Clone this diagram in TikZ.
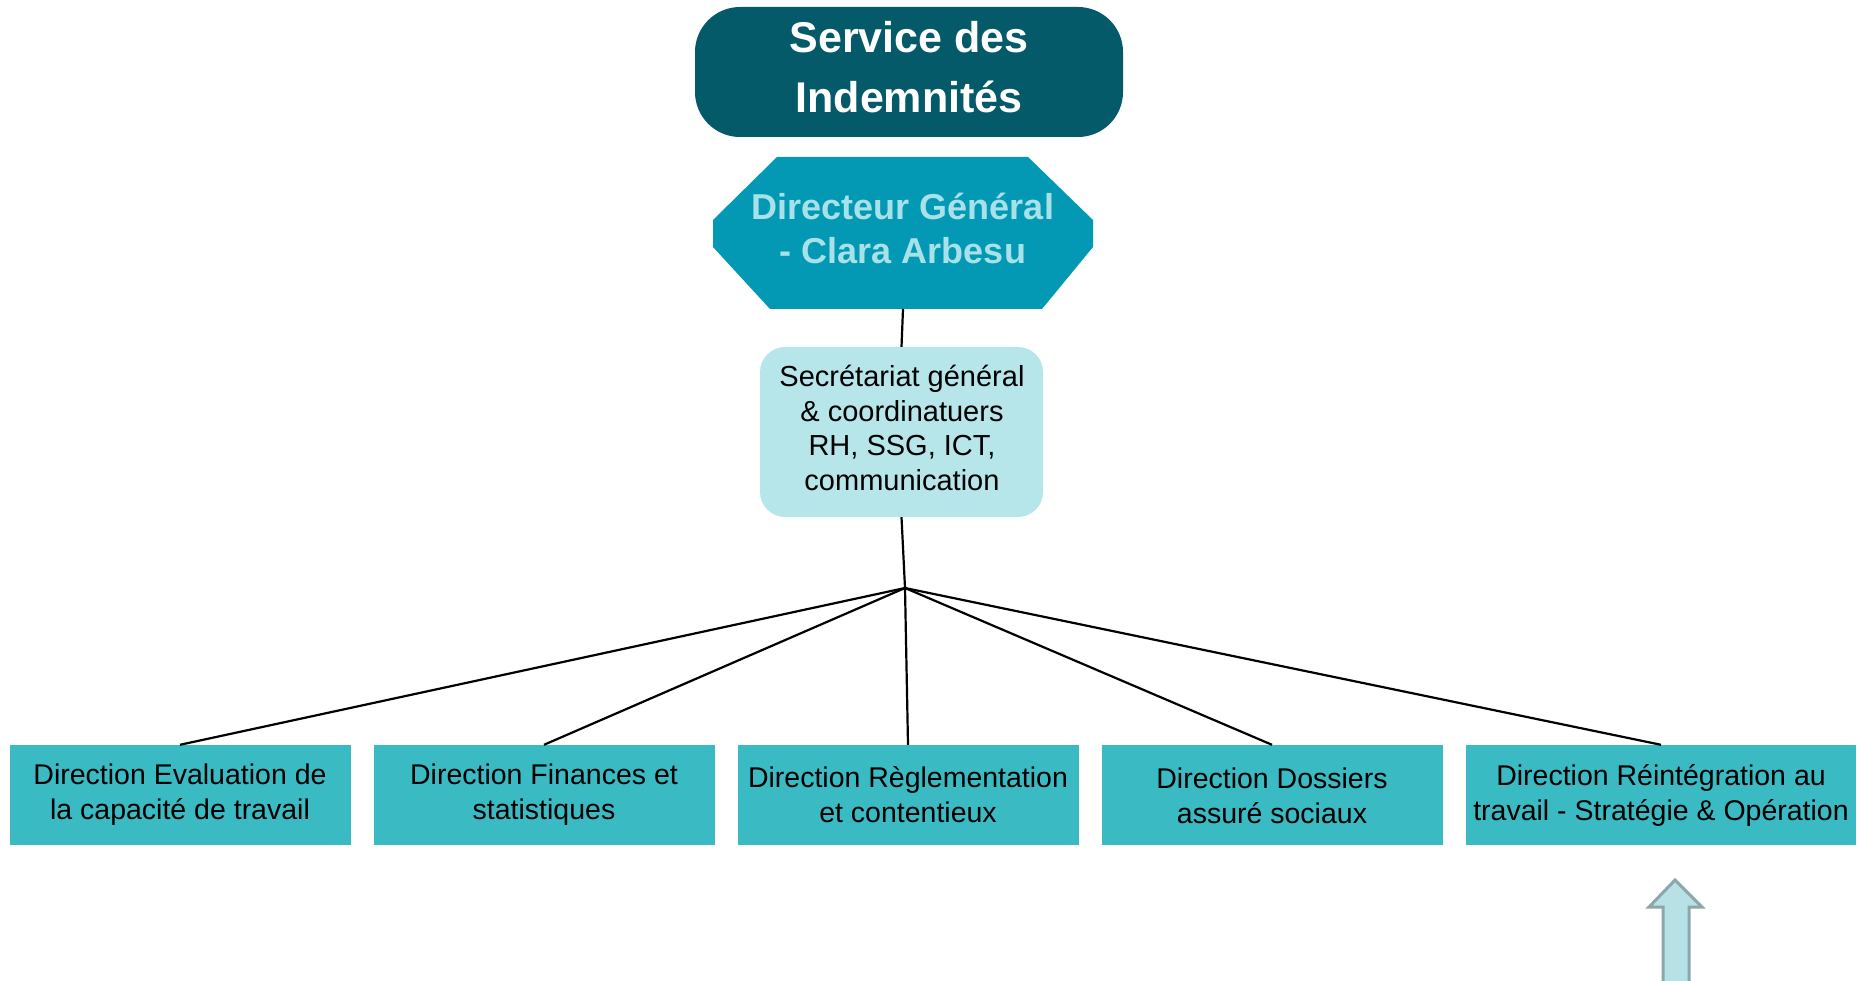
\documentclass[tikz,border=0pt]{standalone}
\usepackage{fontspec}
\setmainfont{Liberation Sans}
\usetikzlibrary{calc}
\definecolor{darkteal}{HTML}{055A69}
\definecolor{dgfill}{HTML}{0399B4}
\definecolor{dgtext}{HTML}{A9E1E9}
\definecolor{secfill}{HTML}{B6E6EA}
\definecolor{dirfill}{HTML}{3ABAC3}
\definecolor{arrowfill}{HTML}{B7E1E4}
\definecolor{arrowline}{HTML}{8CA6A9}
\begin{document}
\begin{tikzpicture}[x=1pt,y=-1pt,
  topbox/.style={fill=darkteal, rounded corners=45pt, minimum width=428pt, minimum height=130pt, inner sep=0pt},
  toptext/.style={text=white, font=\fontsize{43}{60}\selectfont\bfseries, align=center, inner sep=0pt},
  dgtextstyle/.style={text=dgtext, font=\fontsize{36}{44}\selectfont\bfseries, align=center, inner sep=0pt},
  secbox/.style={fill=secfill, rounded corners=25pt, minimum width=283pt, minimum height=170pt, inner sep=0pt},
  sectext/.style={font=\fontsize{29}{34.7}\selectfont, align=center, inner sep=0pt},
  dirbox/.style={fill=dirfill, minimum width=341pt, minimum height=100pt, inner sep=0pt},
  dirtext/.style={font=\fontsize{28.5}{35}\selectfont, align=center, inner sep=0pt},
  link/.style={draw=black, line width=2.2pt}]
\useasboundingbox (0,0) rectangle (1860,981);

% top box
\node[topbox] (svc) at (909,72) {};
\node[toptext] (svct) at (909,67) {Service des\\Indemnités};
% octagon
\fill[dgfill] (777,157) -- (1028,157) -- (1093,220) -- (1093,247) -- (1042,309)
  -- (770,309) -- (713,247) -- (713,220) -- cycle;
\coordinate (dg) at (903,309);
\node[dgtextstyle] (dgt) at (903,228) {Directeur Général\\- Clara Arbesu};
% secretariat
\node[secbox] (sec) at (901.5,432) {};
\node[sectext] (sect) at (902,428) {Secrétariat général\\\& coordinatuers\\RH, SSG, ICT,\\communication};

% directions
\foreach \n/\x/\w in {d1/180/341, d2/544/341, d3/908/341, d4/1272/341, d5/1661/390}
  \node[dirbox, minimum width=\w pt] (\n) at (\x,795) {};
\node[dirtext] (d1t) at (180,795) {Direction Evaluation de\\la capacité de travail};
\node[dirtext] (d2t) at (544,795) {Direction Finances et\\statistiques};
\node[dirtext] (d3t) at (908,795) {Direction Règlementation\\et contentieux};
\node[dirtext] (d4t) at (1272,796) {Direction Dossiers\\assuré sociaux};
\node[dirtext] (d5t) at (1661,795) {Direction Réintégration au\\travail - Stratégie \& Opération};

\coordinate (hub) at (905,588);
\draw[link] (dg) -- (sec.north);
\draw[link] (sec.south) -- (hub);
\foreach \d in {d1,d2,d3,d4,d5} \draw[link] (hub) -- (\d.north);

% arrow
\filldraw[fill=arrowfill, draw=arrowline, line width=3pt]
  (1675,880) -- (1702,907) -- (1689,907) -- (1689,990) -- (1663,990) -- (1663,907) -- (1649,907) -- cycle;
\end{tikzpicture}
\end{document}
